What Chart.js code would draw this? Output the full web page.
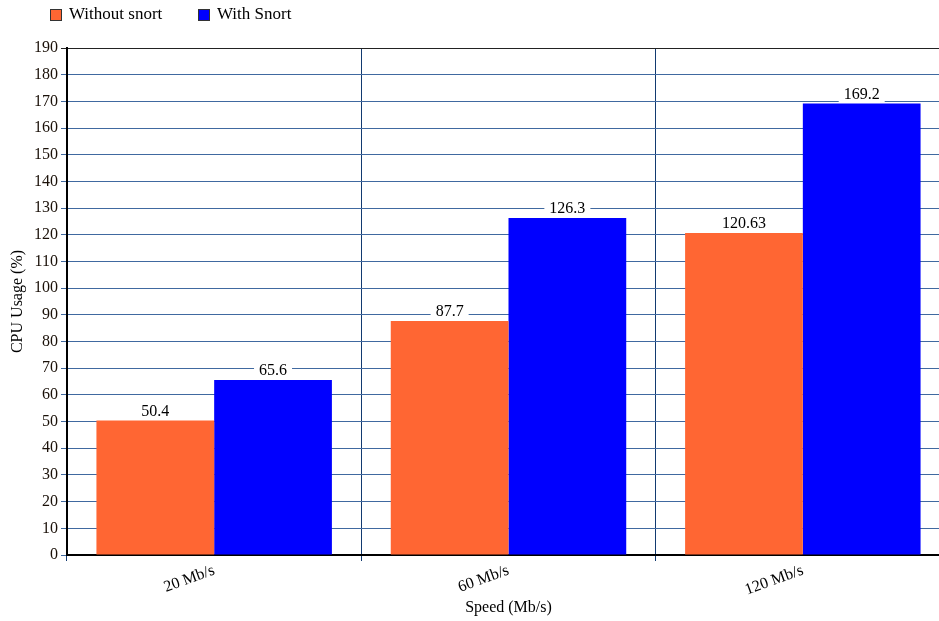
<!DOCTYPE html>
<html>
<head>
<meta charset="utf-8">
<script src="https://cdn.jsdelivr.net/npm/chart.js@4/dist/chart.umd.min.js"></script>
<style>
  html, body { margin: 0; padding: 0; overflow: hidden; background: #fff; }
  #wrap { position: absolute; left: 0; top: 0; width: 950px; height: 621px; }
</style>
</head>
<body>
<div id="wrap"><canvas id="myChart"></canvas></div>
<script>
// chart data
const speeds = ["20 Mb/s", "60 Mb/s", "120 Mb/s"];
const withoutSnort = [50.4, 87.7, 120.63];
const withSnort = [65.6, 126.3, 169.2];
const seriesNames = ["Without snort", "With Snort"];
const yMax = 190;
const yStep = 10;

const serif = "'Liberation Serif', 'Times New Roman', serif";

// draws the value above each bar on a white box
const valueLabels = {
  id: "valueLabels",
  afterDatasetsDraw(chart) {
    const ctx = chart.ctx;
    ctx.save();
    ctx.font = "16px " + serif;
    ctx.textAlign = "center";
    ctx.textBaseline = "middle";
    chart.data.datasets.forEach((ds, i) => {
      chart.getDatasetMeta(i).data.forEach((bar, j) => {
        const txt = String(ds.data[j]);
        const w = ctx.measureText(txt).width + 10;
        ctx.fillStyle = "#fff";
        ctx.fillRect(bar.x - w / 2, bar.y - 18, w, 17);
        ctx.fillStyle = "#000";
        ctx.fillText(txt, bar.x, bar.y - 9);
      });
    });
    ctx.restore();
  },
};

// simple legend at the top left, spaced like the original
const topLegend = {
  id: "topLegend",
  afterDraw(chart) {
    const ctx = chart.ctx;
    const xs = [50, 198];
    ctx.save();
    ctx.font = "17px " + serif;
    ctx.textBaseline = "middle";
    chart.data.datasets.forEach((ds, i) => {
      ctx.fillStyle = ds.backgroundColor;
      ctx.fillRect(xs[i], 9, 12, 12);
      ctx.strokeStyle = "#333";
      ctx.lineWidth = 1;
      ctx.strokeRect(xs[i] + 0.5, 9.5, 11, 11);
      ctx.fillStyle = "#000";
      ctx.fillText(ds.label, xs[i] + 19, 15);
    });
    ctx.restore();
  },
};

const ctx = document.getElementById("myChart").getContext("2d");
const chart = new Chart(ctx, {
  type: "bar",
  data: {
    labels: speeds,
    datasets: [
      {
        label: seriesNames[0],
        backgroundColor: "#ff6633",
        borderColor: "#ff6633",
        data: withoutSnort,
      },
      {
        label: seriesNames[1],
        backgroundColor: "#0000ff",
        borderColor: "#0000ff",
        data: withSnort,
      },
    ],
  },
  options: {
    responsive: true,
    maintainAspectRatio: false,
    animation: false,
    layout: { padding: { left: 0, right: 0, top: 48, bottom: 0 } },
    datasets: {
      bar: { categoryPercentage: 0.8, barPercentage: 1.0 },
    },
    plugins: {
      tooltip: { enabled: false },
      legend: { display: false },
    },
    scales: {
      x: {
        offset: true,
        grid: {
          offset: true,
          color: "#123a70",
          lineWidth: 1,
          tickLength: 6,
        },
        border: { color: "#000", width: 2 },
        ticks: {
          maxRotation: 20,
          minRotation: 20,
          color: "#000",
          padding: 0,
          font: { family: serif, size: 16 },
        },
        title: {
          display: true,
          text: "Speed (Mb/s)",
          color: "#000",
          font: { family: serif, size: 16 },
          padding: { top: 0, bottom: 4 },
        },
        afterFit(scale) {
          scale.height = 66;
        },
      },
      y: {
        min: 0,
        max: yMax,
        grid: {
          color: (c) => (c.tick && c.tick.value === yMax ? "#222222" : "#4069a0"),
          lineWidth: 1,
          tickLength: 6,
        },
        border: { color: "#000", width: 2 },
        ticks: {
          stepSize: yStep,
          color: "#1a1008",
          padding: 3,
          font: { family: serif, size: 16 },
        },
        title: {
          display: true,
          text: "CPU Usage (%)",
          color: "#000",
          font: { family: serif, size: 16 },
          padding: { top: 8, bottom: 0 },
        },
        afterFit(scale) {
          scale.width = 67;
        },
      },
    },
  },
  plugins: [valueLabels, topLegend],
});
</script>
</body>
</html>
